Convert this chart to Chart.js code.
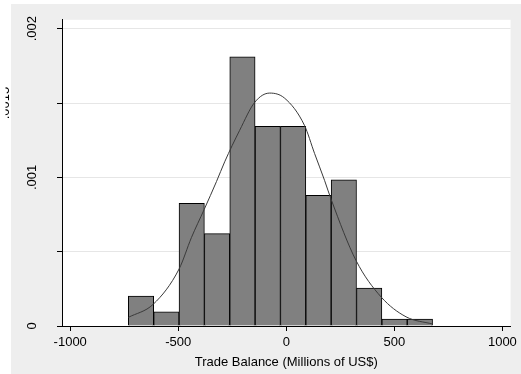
<!DOCTYPE html>
<html>
<head>
<meta charset="utf-8">
<script src="https://cdn.jsdelivr.net/npm/chart.js@4"></script>
<style>
  html, body { margin: 0; padding: 0; background: #fff; }
</style>
</head>
<body>
<canvas id="chart1" width="521" height="374"></canvas>
<script>
// histogram bins (centres) and densities
const binCenters = [-672.3, -555.0, -437.7, -320.3, -203.0, -85.7, 31.7, 149.0, 266.3, 383.7, 501.0, 618.3];
const density = [0.000202, 0.000095, 0.000826, 0.000621, 0.001811, 0.001343, 0.001343, 0.000879, 0.000983, 0.000255, 0.000047, 0.000047];

// normal density overlay
const curveX = [-731, -616, -496, -439, -380, -323, -285, -216, -146, -77, -8, 84, 131, 177, 208, 323, 439, 554, 677];
const curveY = [0.000058, 0.000146, 0.000384, 0.000595, 0.000784, 0.000972, 0.001105, 0.001316, 0.001505, 0.001567, 0.001533, 0.00135, 0.00116, 0.00098, 0.00085, 0.00044, 0.000195, 0.000062, 0.000013];

const xTicks = [-1000, -500, 0, 500, 1000];
const yTicks = [0, 0.0005, 0.001, 0.0015, 0.002];
const yLabels = { 0: '0', 0.001: '.001', 0.002: '.002' };

Chart.defaults.font.family = '"Liberation Sans", Arial, sans-serif';
Chart.defaults.color = '#000';

const bgPlugin = {
    id: 'bg',
    beforeDraw(chart) {
        const { ctx, chartArea: a } = chart;
        ctx.save();
        ctx.fillStyle = '#ffffff';
        ctx.fillRect(0, 0, chart.width, chart.height);
        ctx.fillStyle = '#eeeeee';
        ctx.fillRect(11, 4, chart.width - 11, chart.height - 4);
        ctx.fillStyle = '#ffffff';
        ctx.fillRect(a.left, a.top, a.right - a.left, a.bottom - a.top);
        ctx.restore();
    },
    afterDraw(chart) {
        // the .0015 label sits half off the graph region in the original
        const { ctx } = chart;
        const y = chart.scales.y.getPixelForValue(0.0015);
        ctx.save();
        ctx.beginPath();
        ctx.rect(5.5, 0, 6, chart.height);
        ctx.clip();
        ctx.translate(5.5, y);
        ctx.rotate(-Math.PI / 2);
        ctx.font = '13px "Liberation Sans", Arial, sans-serif';
        ctx.textAlign = 'center';
        ctx.textBaseline = 'middle';
        ctx.fillStyle = '#000';
        ctx.fillText('.0015', 0, 0);
        ctx.restore();
    }
};

const ctx1 = document.getElementById('chart1').getContext('2d');
const chart1 = new Chart(ctx1, {
    type: 'bar',
    data: {
        datasets: [{
            type: 'line',
            data: curveX.map((x, i) => ({ x: x, y: curveY[i] })),
            borderColor: '#3a3a3a',
            borderWidth: 1,
            pointRadius: 0,
            cubicInterpolationMode: 'monotone',
            fill: false,
            order: 1
        }, {
            type: 'bar',
            data: binCenters.map((x, i) => ({ x: x, y: density[i] })),
            backgroundColor: '#808080',
            borderColor: '#000',
            borderWidth: 1,
            barPercentage: 1,
            categoryPercentage: 1,
            order: 2
        }]
    },
    options: {
        responsive: false,
        animation: false,
        layout: { padding: { top: 17, right: 9, bottom: 0, left: 0 } },
        plugins: { legend: { display: false }, tooltip: { enabled: false } },
        scales: {
            x: {
                type: 'linear',
                min: -1038,
                max: 1038,
                offset: false,
                afterBuildTicks: s => { s.ticks = xTicks.map(v => ({ value: v })); },
                afterFit: s => { s.height = 48; },
                ticks: {
                    font: { size: 13 },
                    padding: 4,
                    maxRotation: 0,
                    callback: v => String(v)
                },
                grid: { offset: false, drawOnChartArea: false, tickLength: 5, tickColor: '#000' },
                border: { color: '#000', width: 1 },
                title: {
                    display: true,
                    text: 'Trade Balance (Millions of US$)',
                    font: { size: 13 },
                    padding: { top: 0, bottom: 4 }
                }
            },
            y: {
                min: 0,
                max: 0.00206,
                afterBuildTicks: s => { s.ticks = yTicks.map(v => ({ value: v })); },
                afterFit: s => { s.width = 62; },
                ticks: {
                    font: { size: 13 },
                    minRotation: 90,
                    maxRotation: 90,
                    crossAlign: 'center',
                    padding: 12,
                    callback: v => yLabels[v] !== undefined ? yLabels[v] : ''
                },
                grid: {
                    color: c => (c.tick && c.tick.value === 0) ? 'rgba(0,0,0,0)' : '#e6e6e6',
                    tickLength: 5,
                    tickColor: '#000'
                },
                border: { color: '#000', width: 1 }
            }
        }
    },
    plugins: [bgPlugin]
});
</script>
</body>
</html>
